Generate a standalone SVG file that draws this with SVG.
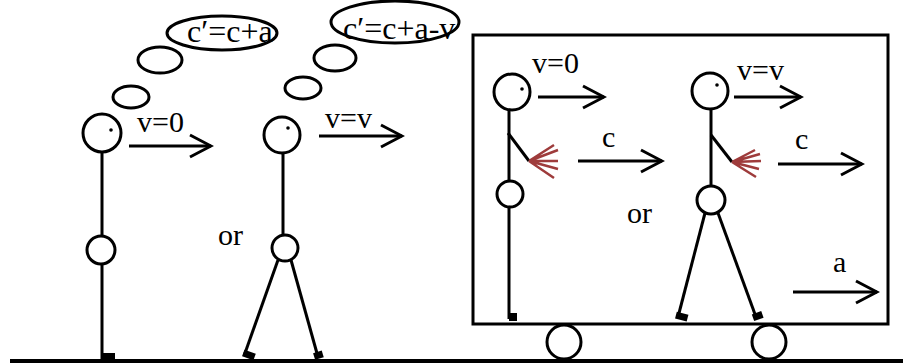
<svg xmlns="http://www.w3.org/2000/svg" width="903" height="364" viewBox="0 0 903 364">
<style>
.s{fill:none;stroke:#000;stroke-width:3}
.w{fill:#fff;stroke:#000;stroke-width:3}
.t{font-family:"Liberation Serif","Times New Roman",serif;font-size:30px;fill:#000}
.b{font-size:32px}
.f{fill:#000}
.fan{stroke:#9e3b3b;stroke-width:2.5;fill:none}
.ar{fill:none;stroke:#000;stroke-width:3}
</style>
<defs>
<marker id="ah" markerUnits="userSpaceOnUse" viewBox="-2 -2 26 26" refX="21" refY="11" markerWidth="26" markerHeight="26" orient="auto">
<path d="M0,0 L21,11 L0,22" fill="none" stroke="#000" stroke-width="3"/>
</marker>
</defs>
<rect width="903" height="364" fill="#fff"/>
<g id="ground"><line x1="10" y1="361" x2="903" y2="361" stroke="#000" stroke-width="4"/></g>
<g id="thought1">
<ellipse class="w" cx="131" cy="97" rx="18" ry="11"/>
<ellipse class="w" cx="160" cy="60" rx="22" ry="13"/>
<ellipse class="w" cx="222" cy="33" rx="55" ry="17"/>
<text class="t b" x="187" y="42">c′=c+a</text>
</g>
<g id="thought2">
<ellipse class="w" cx="395" cy="22" rx="64" ry="21"/>
<ellipse class="w" cx="335" cy="58" rx="21" ry="13"/>
<ellipse class="w" cx="303" cy="88" rx="18" ry="11"/>
<text class="t b" x="343" y="39">c′=c+a-v</text>
</g>
<g id="person1">
<circle class="s" cx="102" cy="133" r="19"/>
<circle class="f" cx="111" cy="130" r="1.8"/>
<line class="s" x1="102" y1="152" x2="102" y2="236"/>
<circle class="s" cx="101" cy="250" r="14"/>
<line class="s" x1="102" y1="264" x2="102" y2="360"/>
<rect class="f" x="101" y="353" width="14" height="7"/>
</g>
<g id="person2">
<circle class="s" cx="282" cy="135" r="18"/>
<circle class="f" cx="288" cy="128" r="1.8"/>
<line class="s" x1="283" y1="153" x2="283" y2="235"/>
<circle class="s" cx="285" cy="248" r="13"/>
<line class="s" x1="278" y1="260" x2="244" y2="356"/>
<line class="s" x1="291" y1="260" x2="318" y2="357"/>
<rect class="f" x="-2" y="-7" width="12" height="7" transform="translate(244,357) rotate(19.4)"/>
<rect class="f" x="-3" y="-7" width="9" height="7" transform="translate(318,359) rotate(-16.8)"/>
</g>
<text class="t" x="218" y="245">or</text>
<g id="cart">
<rect class="s" x="473" y="35" width="415" height="289"/>
<circle class="w" cx="564" cy="342" r="17"/>
<circle class="w" cx="769" cy="342" r="17"/>
</g>
<g id="person3">
<circle class="s" cx="512" cy="92" r="18"/>
<circle class="f" cx="522" cy="89" r="1.8"/>
<line class="s" x1="509" y1="109" x2="509" y2="181"/>
<line class="s" x1="508" y1="133" x2="529" y2="161"/>
<path class="fan" d="M529,161 L554,145 M529,161 L558,150 M529,161 L558,161 M529,161 L558,169 M529,161 L554,178"/>
<circle class="s" cx="510" cy="194" r="13"/>
<line class="s" x1="509" y1="207" x2="509" y2="319"/>
<rect class="f" x="509" y="313" width="8" height="8"/>
</g>
<g id="person4">
<circle class="s" cx="710" cy="91" r="18"/>
<circle class="f" cx="717" cy="85" r="1.8"/>
<line class="s" x1="711" y1="109" x2="711" y2="186"/>
<line class="s" x1="711" y1="135" x2="732" y2="162"/>
<path class="fan" d="M732,162 L755,150 M732,162 L760,154 M732,162 L761,161 M732,162 L759,169 M732,162 L756,177"/>
<circle class="s" cx="711" cy="200" r="14"/>
<line class="s" x1="705" y1="213" x2="678" y2="317"/>
<line class="s" x1="718" y1="213" x2="756" y2="317"/>
<rect class="f" x="-2" y="-7" width="12" height="7" transform="translate(677,319) rotate(14.4)"/>
<rect class="f" x="-3" y="-7" width="10" height="7" transform="translate(757,320) rotate(-19.8)"/>
</g>
<text class="t" x="627" y="223">or</text>
<g id="connectors">
<line class="ar" x1="129" y1="146" x2="211" y2="146" marker-end="url(#ah)"/>
<line class="ar" x1="319" y1="136" x2="402" y2="136" marker-end="url(#ah)"/>
<line class="ar" x1="538" y1="97" x2="604" y2="97" marker-end="url(#ah)"/>
<line class="ar" x1="578" y1="161" x2="662" y2="161" marker-end="url(#ah)"/>
<line class="ar" x1="734" y1="97" x2="801" y2="97" marker-end="url(#ah)"/>
<line class="ar" x1="778" y1="164" x2="862" y2="164" marker-end="url(#ah)"/>
<line class="ar" x1="793" y1="292" x2="877" y2="292" marker-end="url(#ah)"/>
</g>
<g id="labels">
<text class="t" x="137" y="132">v=0</text>
<text class="t" x="325" y="128">v=v</text>
<text class="t" x="532" y="73">v=0</text>
<text class="t" x="737" y="80">v=v</text>
<text class="t" x="602" y="147">c</text>
<text class="t" x="795" y="149">c</text>
<text class="t" x="833" y="272">a</text>
</g>
</svg>
